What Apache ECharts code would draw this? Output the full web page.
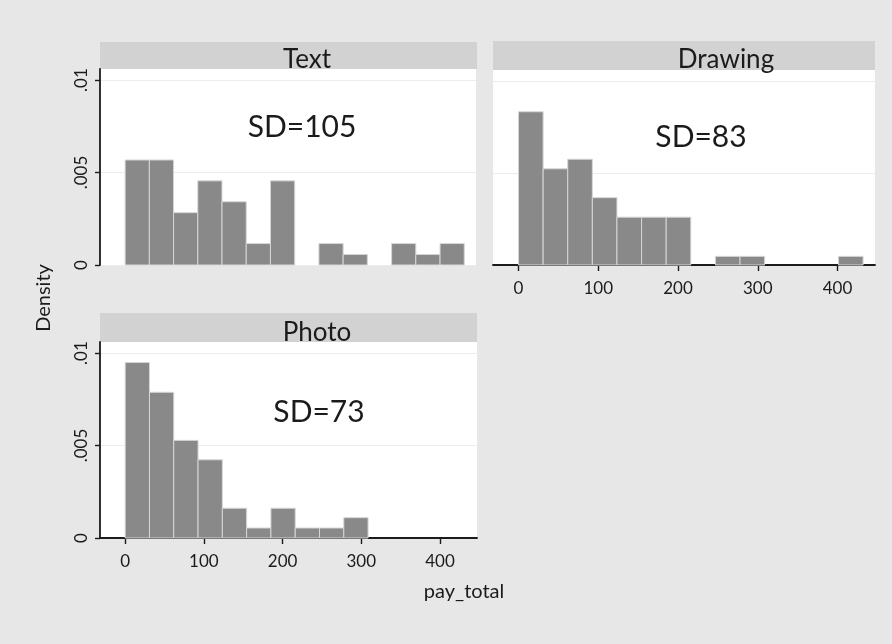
<!DOCTYPE html>
<html><head><meta charset="utf-8">
<script src="https://cdn.jsdelivr.net/npm/echarts@6/dist/echarts.min.js"></script>
<style>html,body{margin:0;padding:0;background:#e7e7e7}#c{width:892px;height:644px}</style>
</head><body><div id="c"></div>
<script>
// ---- data ----
const panelNames = ['Text', 'Drawing', 'Photo'];
const sdLabels = ['SD=105', 'SD=83', 'SD=73'];
const binStart = 0;
const binWidth = 30.86;
const textDensity    = [0.00568, 0.00568, 0.00283, 0.00455, 0.00342, 0.00116, 0.00455, 0, 0.00116, 0.00057, 0, 0.00116, 0.00057, 0.00116];
const drawingDensity = [0.00833, 0.00523, 0.00575, 0.00366, 0.00260, 0.00260, 0.00260, 0, 0.00047, 0.00047, 0, 0, 0, 0.00047];
const photoDensity   = [0.00949, 0.00788, 0.00528, 0.00423, 0.00161, 0.00054, 0.00161, 0.00054, 0.00054, 0.00110, 0, 0, 0, 0];
const xTicks = [0, 100, 200, 300, 400];
const yTicks = [0, 0.005, 0.01];
const yTickLabels = ['0', '.005', '.01'];
const xTitle = 'pay_total';
const yTitle = 'Density';

// ---- build ----
const FONT = 'Lato, "Open Sans", sans-serif';
const TXT = '#1b1b1b';
function bins(arr) {
  const out = [];
  arr.forEach((d, i) => { if (d > 0) out.push([binStart + i * binWidth, binStart + (i + 1) * binWidth, d]); });
  return out;
}
function renderBar(params, api) {
  const p0 = api.coord([api.value(0), 0]);
  const p1 = api.coord([api.value(1), api.value(2)]);
  return {
    type: 'rect',
    shape: { x: p0[0], y: p1[1], width: p1[0] - p0[0], height: p0[1] - p1[1] },
    style: { fill: '#898989', stroke: '#d6d6d6', lineWidth: 1 }
  };
}
const grids = [
  { left: 100, top: 69, width: 376, height: 196 },
  { left: 493, top: 70, width: 382, height: 195 },
  { left: 100, top: 342, width: 377, height: 196 }
].map(g => Object.assign(g, { show: true, backgroundColor: '#ffffff', borderWidth: 0 }));

function xAxis(i, show) {
  return {
    type: 'value', gridIndex: i, min: -32, max: 447,
    axisLine: { show: show, onZero: false, lineStyle: { color: '#1b1b1b', width: 1.8 } },
    axisTick: { show: show, length: 6, customValues: xTicks, lineStyle: { color: '#1b1b1b', width: 1.4 } },
    axisLabel: { show: show, customValues: xTicks, margin: 15, fontSize: 17, color: TXT, fontFamily: FONT },
    splitLine: { show: false }
  };
}
function yAxis(i, show) {
  return {
    type: 'value', gridIndex: i, min: 0, max: 0.0106,
    axisLine: { show: show, onZero: false, lineStyle: { color: '#1b1b1b', width: 1.8 } },
    axisTick: { show: show, length: 5, customValues: yTicks, lineStyle: { color: '#1b1b1b', width: 1.4 } },
    axisLabel: { show: show, customValues: yTicks, rotate: 90, margin: 10, fontSize: 17, color: TXT, fontFamily: FONT,
      formatter: v => yTickLabels[yTicks.indexOf(v)] },
    splitLine: { show: true, lineStyle: { color: '#ececec', width: 1 } }
  };
}

const strips = [
  { x: 100, y: 42, w: 377, h: 27, tx: 307, ty: 60 },
  { x: 493, y: 41, w: 382, h: 29, tx: 726, ty: 60 },
  { x: 100, y: 313, w: 377, h: 29, tx: 317, ty: 333 }
];
const sdPos = [[302, 127], [701, 137], [319, 412]];

const graphic = [];
strips.forEach((s, i) => {
  graphic.push({ type: 'rect', z: -1, shape: { x: s.x, y: s.y, width: s.w, height: s.h }, style: { fill: '#d2d2d2' } });
  graphic.push({ type: 'text', x: s.tx, y: s.ty, style: { text: panelNames[i], fill: TXT, font: '26px ' + FONT, textAlign: 'center', textVerticalAlign: 'middle' } });
  graphic.push({ type: 'text', z: 10, x: sdPos[i][0], y: sdPos[i][1], style: { text: sdLabels[i], fill: TXT, font: '30px ' + FONT, textAlign: 'center', textVerticalAlign: 'middle' } });
});
graphic.push({ type: 'text', x: 44, y: 298, rotation: Math.PI / 2, style: { text: yTitle, fill: TXT, font: '20px ' + FONT, textAlign: 'center', textVerticalAlign: 'middle' } });
graphic.push({ type: 'text', x: 464, y: 592, style: { text: xTitle, fill: TXT, font: '20px ' + FONT, textAlign: 'center', textVerticalAlign: 'middle' } });

const series = [textDensity, drawingDensity, photoDensity].map((arr, i) => ({
  type: 'custom', xAxisIndex: i, yAxisIndex: i, renderItem: renderBar,
  encode: { x: [0, 1], y: 2 }, data: bins(arr), z: 2
}));

const chart = echarts.init(document.getElementById('c'), null, { renderer: 'canvas' });
chart.setOption({
  animation: false,
  backgroundColor: '#e7e7e7',
  grid: grids,
  xAxis: [xAxis(0, false), xAxis(1, true), xAxis(2, true)],
  yAxis: [yAxis(0, true), yAxis(1, false), yAxis(2, true)],
  series: series,
  graphic: graphic
});
</script></body></html>
